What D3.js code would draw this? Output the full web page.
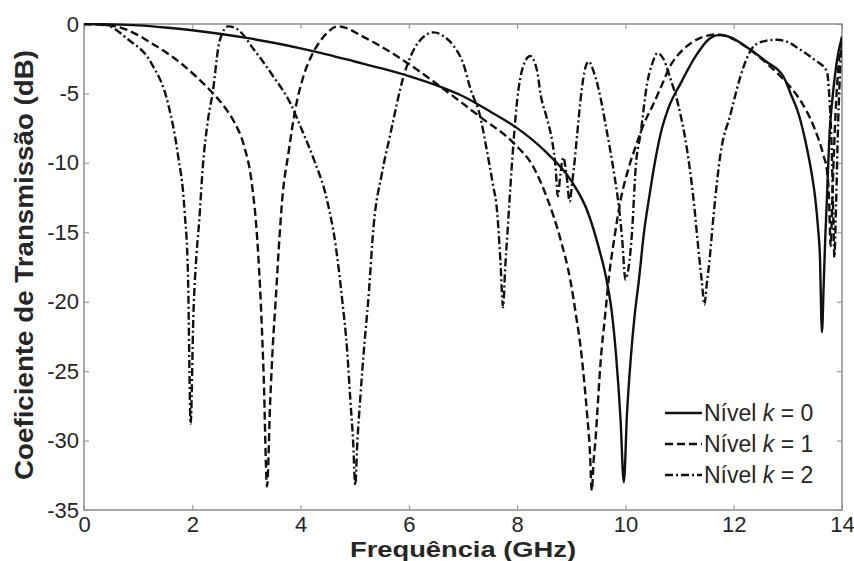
<!DOCTYPE html>
<html>
<head>
<meta charset="utf-8">
<script src="https://cdn.jsdelivr.net/npm/d3@7"></script>
<style>
  html, body { margin: 0; padding: 0; background: #fff; }
  svg { display: block; }
</style>
</head>
<body>
<svg id="chart" width="854" height="561"></svg>
<script>
// ---- Data ----
const xTicks = [0, 2, 4, 6, 8, 10, 12, 14];
const yTicks = [0, -5, -10, -15, -20, -25, -30, -35];

const k0Freq = [0, 0.5, 1, 1.5, 2, 2.5, 3, 3.5, 4, 4.5, 5, 5.5, 6, 6.5, 7, 7.5, 8, 8.5, 9, 9.3, 9.5, 9.66, 9.75, 9.83, 9.91, 9.97, 10.03, 10.1, 10.17, 10.25, 10.34, 10.45, 10.52, 10.65, 10.8, 11.03, 11.3, 11.54, 11.72, 11.9, 12.1, 12.31, 12.6, 12.92, 13.05, 13.2, 13.36, 13.45, 13.51, 13.56, 13.59, 13.63, 13.66, 13.69, 13.72, 13.77, 13.82, 13.9, 14];
const k0dB   = [0, -0.03, -0.1, -0.25, -0.45, -0.7, -1.0, -1.35, -1.75, -2.2, -2.7, -3.2, -3.75, -4.4, -5.2, -6.3, -7.5, -9.1, -11.3, -13.5, -16.0, -18.6, -20.8, -24.0, -28.5, -33.0, -28.0, -24.0, -21.0, -18.4, -15.1, -12.2, -10.5, -7.9, -6.0, -4.2, -2.3, -1.1, -0.8, -0.9, -1.3, -1.85, -2.7, -3.8, -5.0, -6.5, -9.1, -11.0, -12.7, -14.8, -16.5, -22.2, -19.0, -15.5, -12.7, -7.9, -5.5, -2.8, -0.9];

const k1Freq = [0, 0.3, 0.62, 1.0, 1.24, 1.5, 1.86, 2.1, 2.35, 2.6, 2.78, 2.95, 3.1, 3.2, 3.27, 3.32, 3.38, 3.44, 3.49, 3.54, 3.6, 3.66, 3.78, 3.9, 4.05, 4.2, 4.35, 4.5, 4.68, 4.85, 5.1, 5.48, 5.97, 6.58, 7.32, 7.94, 8.3, 8.55, 8.8, 8.98, 9.1, 9.17, 9.24, 9.29, 9.34, 9.38, 9.41, 9.45, 9.48, 9.54, 9.63, 9.69, 9.8, 9.91, 10.05, 10.2, 10.34, 10.5, 10.65, 10.83, 11.0, 11.2, 11.5, 11.65, 11.8, 12.0, 12.3, 12.6, 12.92, 13.23, 13.48, 13.66, 13.72, 13.76, 13.79, 13.83, 13.88, 13.94, 14];
const k1dB   = [0, -0.05, -0.2, -0.8, -1.37, -2.0, -3.05, -3.9, -4.86, -6.0, -7.1, -8.7, -11.5, -15.5, -20.5, -25.5, -33.3, -27.1, -23.0, -19.9, -16.0, -12.7, -9.2, -6.2, -3.8, -2.3, -1.3, -0.6, -0.17, -0.3, -0.8, -1.6, -2.8, -4.5, -6.7, -8.6, -10.3, -12.5, -15.5, -18.4, -21.3, -23.2, -25.8, -28.0, -30.5, -33.6, -31.6, -29.8, -28.0, -24.4, -20.8, -18.4, -15.3, -12.7, -10.5, -8.7, -7.2, -5.9, -4.6, -3.0, -2.1, -1.4, -0.85, -0.75, -0.8, -1.1, -1.85, -2.8, -4.0, -5.5, -7.4, -9.5, -10.5, -12.5, -16.0, -11.5, -6.5, -2.8, -1.0];

const k2Freq = [0, 0.38, 0.81, 1.24, 1.55, 1.73, 1.86, 1.92, 1.97, 2.02, 2.08, 2.13, 2.19, 2.29, 2.38, 2.5, 2.66, 2.84, 3.14, 3.5, 3.81, 4.0, 4.25, 4.49, 4.65, 4.77, 4.86, 4.92, 4.97, 5.01, 5.05, 5.1, 5.18, 5.25, 5.35, 5.5, 5.66, 5.9, 6.09, 6.25, 6.46, 6.65, 6.83, 7.0, 7.14, 7.32, 7.44, 7.55, 7.63, 7.69, 7.74, 7.78, 7.82, 7.9, 8.0, 8.1, 8.24, 8.37, 8.43, 8.55, 8.65, 8.71, 8.75, 8.8, 8.85, 8.91, 8.97, 9.02, 9.05, 9.11, 9.17, 9.24, 9.32, 9.42, 9.55, 9.65, 9.72, 9.8, 9.88, 9.94, 10.0, 10.06, 10.12, 10.19, 10.28, 10.4, 10.5, 10.59, 10.7, 10.82, 10.98, 11.14, 11.26, 11.35, 11.41, 11.46, 11.5, 11.54, 11.63, 11.75, 11.94, 12.18, 12.37, 12.55, 12.8, 13.0, 13.23, 13.5, 13.72, 13.77, 13.81, 13.84, 13.86, 13.89, 13.93, 13.97, 14];
const k2dB   = [0, -0.05, -1.1, -2.8, -5.7, -9.3, -13.6, -18.0, -28.8, -21.0, -16.5, -14.1, -10.5, -6.9, -4.86, -1.3, -0.17, -0.4, -1.85, -3.8, -5.7, -7.4, -9.8, -12.7, -16.0, -19.9, -23.5, -27.1, -30.0, -33.2, -30.0, -27.1, -23.0, -19.9, -14.5, -10.8, -7.9, -3.8, -1.85, -1.0, -0.6, -0.9, -1.6, -2.8, -4.7, -6.7, -9.1, -11.5, -13.5, -17.0, -20.4, -17.5, -15.1, -10.3, -5.5, -3.2, -2.3, -3.4, -5.0, -6.8, -8.5, -10.3, -12.4, -10.8, -9.6, -10.8, -12.8, -11.3, -10.3, -7.9, -5.5, -3.5, -2.7, -3.5, -5.5, -7.6, -9.1, -11.0, -13.2, -15.5, -18.4, -17.5, -15.1, -10.3, -7.9, -4.3, -2.8, -2.1, -2.5, -3.8, -5.9, -9.1, -12.7, -16.3, -18.5, -20.2, -18.8, -17.5, -13.7, -9.5, -6.5, -3.1, -1.6, -1.25, -1.13, -1.3, -1.85, -2.6, -3.4, -5.5, -9.0, -14.0, -16.8, -13.0, -7.0, -3.0, -1.0];

const legendLabels = ["Nível ", "Nível ", "Nível "];
const legendKs = ["0", "1", "2"];
const xTitle = "Frequência (GHz)";
const yTitle = "Coeficiente de Transmissão (dB)";

// ---- Layout ----
const svg = d3.select("#chart");
const plotLeft = 84, plotRight = 842, plotTop = 24, plotBottom = 510;

const x = d3.scaleLinear().domain([0, 14]).range([plotLeft, plotRight]);
const y = d3.scaleLinear().domain([-35, 0]).range([plotBottom, plotTop]);

const frameColor = "#8c8c8c";
const textColor = "#262626";
const font = "Liberation Sans, Arial, Helvetica, sans-serif";

svg.append("defs").append("clipPath").attr("id", "plotclip")
  .append("rect").attr("x", plotLeft).attr("y", plotTop - 1)
  .attr("width", plotRight - plotLeft).attr("height", plotBottom - plotTop + 2);

// Axes with inward ticks on all four sides
const tickLen = 5;
const axBottom = svg.append("g").attr("transform", `translate(0,${plotBottom})`)
  .call(d3.axisBottom(x).tickValues(xTicks).tickSize(-tickLen).tickPadding(6).tickFormat(d3.format("d")));
const axTop = svg.append("g").attr("transform", `translate(0,${plotTop})`)
  .call(d3.axisTop(x).tickValues(xTicks).tickSize(-tickLen).tickFormat(""));
const axLeft = svg.append("g").attr("transform", `translate(${plotLeft},0)`)
  .call(d3.axisLeft(y).tickValues(yTicks).tickSize(-tickLen).tickPadding(5).tickFormat(d => d === 0 ? "0" : "-" + Math.abs(d)));
const axRight = svg.append("g").attr("transform", `translate(${plotRight},0)`)
  .call(d3.axisRight(y).tickValues(yTicks).tickSize(-tickLen).tickFormat(""));

[axBottom, axTop, axLeft, axRight].forEach(g => {
  g.select(".domain").remove();
  g.selectAll(".tick line").attr("stroke", frameColor).attr("stroke-width", 1);
  g.selectAll(".tick text").attr("fill", textColor).attr("font-family", font).attr("font-size", 22);
});
axBottom.selectAll(".tick text").attr("dy", "0.71em");

svg.append("rect")
  .attr("x", plotLeft).attr("y", plotTop)
  .attr("width", plotRight - plotLeft).attr("height", plotBottom - plotTop)
  .attr("fill", "none").attr("stroke", frameColor).attr("stroke-width", 1.5);

// ---- Curves ----
const line = d3.line().x(d => x(d[0])).y(d => y(d[1])).curve(d3.curveMonotoneX);
const series = [
  { f: k0Freq, v: k0dB, dash: null },
  { f: k1Freq, v: k1dB, dash: "8,4" },
  { f: k2Freq, v: k2dB, dash: "8,3,2,3" }
];
const gCurves = svg.append("g").attr("clip-path", "url(#plotclip)");
series.forEach(s => {
  const pts = s.f.map((f, i) => [f, s.v[i]]);
  gCurves.append("path")
    .attr("d", line(pts))
    .attr("fill", "none")
    .attr("stroke", "#111")
    .attr("stroke-width", 2.4)
    .attr("stroke-linejoin", "round")
    .attr("stroke-dasharray", s.dash);
});

// ---- Legend ----
const legX1 = 665, legX2 = 702, legY0 = 413, legDy = 31;
const leg = svg.append("g");
series.forEach((s, i) => {
  const yy = legY0 + i * legDy;
  leg.append("line")
    .attr("x1", legX1).attr("x2", legX2).attr("y1", yy).attr("y2", yy)
    .attr("stroke", "#111").attr("stroke-width", 2.4)
    .attr("stroke-dasharray", s.dash);
  const t = leg.append("text")
    .attr("x", legX2 + 2).attr("y", yy + 8)
    .attr("font-family", font).attr("font-size", 23).attr("fill", textColor);
  t.append("tspan").text(legendLabels[i]);
  t.append("tspan").attr("font-style", "italic").text("k");
  t.append("tspan").text(" = " + legendKs[i]);
});

// ---- Titles ----
svg.append("text")
  .attr("x", (plotLeft + plotRight) / 2).attr("y", 557)
  .attr("text-anchor", "middle")
  .attr("font-family", font).attr("font-weight", "bold").attr("font-size", 22)
  .attr("textLength", 226).attr("lengthAdjust", "spacingAndGlyphs")
  .attr("fill", textColor)
  .text(xTitle);

svg.append("text")
  .attr("transform", `translate(33,265) rotate(-90)`)
  .attr("text-anchor", "middle")
  .attr("font-family", font).attr("font-weight", "bold").attr("font-size", 25)
  .attr("textLength", 430).attr("lengthAdjust", "spacingAndGlyphs")
  .attr("fill", textColor)
  .text(yTitle);
</script>
</body>
</html>
